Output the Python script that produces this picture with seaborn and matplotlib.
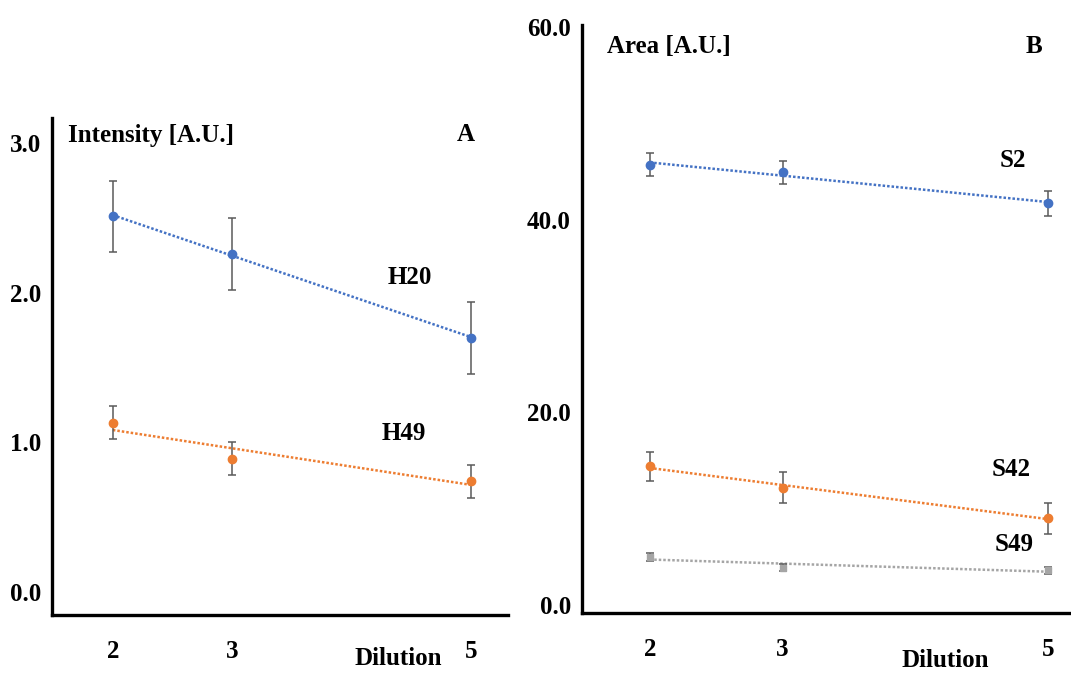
import numpy as np
import seaborn as sns
import matplotlib.pyplot as plt

# Dilution levels (shared by both panels)
dilution = [2, 3, 5]

# Panel A - intensity
h20_mean = [2.51, 2.26, 1.70]
h20_err = [0.24, 0.24, 0.24]
h49_mean = [1.13, 0.89, 0.74]
h49_err = [0.11, 0.11, 0.11]

# Panel B - area
s2_mean = [45.7, 44.9, 41.7]
s2_err = [1.2, 1.2, 1.3]
s42_mean = [14.4, 12.2, 9.0]
s42_err = [1.5, 1.6, 1.6]
s49_mean = [5.0, 3.9, 3.6]
s49_err = [0.4, 0.4, 0.4]

yticks_a = [0.0, 1.0, 2.0, 3.0]
yticks_b = [0.0, 20.0, 40.0, 60.0]

BLUE = "#4472C4"
ORANGE = "#ED7D31"
GREY = "#A5A5A5"
ERR = "#5a5a5a"

sns.set_style("white")
plt.rcParams['font.family'] = ['Liberation Serif', 'DejaVu Serif']
plt.rcParams['font.weight'] = 'bold'
plt.rcParams['text.color'] = 'black'
plt.rcParams['xtick.color'] = 'black'
plt.rcParams['ytick.color'] = 'black'

fig = plt.figure(figsize=(10.71, 6.73), dpi=100)
ax_a = fig.add_axes([0.0486, 0.0862, 0.4255, 0.739])
ax_b = fig.add_axes([0.5434, 0.089, 0.4566, 0.874])


def draw_series(ax, means, errs, color, marker='o', ms=6):
    # dotted linear trend line through the points
    sns.regplot(x=dilution, y=means, ax=ax, scatter=False, ci=None, truncate=True,
                color=color, line_kws=dict(lw=1.8, ls=(0, (1, 0.8))))
    ax.errorbar(dilution, means, yerr=errs, fmt=marker, color=color, ms=ms,
                ecolor=ERR, elinewidth=1.1, capsize=3, capthick=1.1, zorder=3)


draw_series(ax_a, h20_mean, h20_err, BLUE)
draw_series(ax_a, h49_mean, h49_err, ORANGE)

draw_series(ax_b, s2_mean, s2_err, BLUE)
draw_series(ax_b, s42_mean, s42_err, ORANGE)
draw_series(ax_b, s49_mean, s49_err, GREY, marker='s', ms=4)

tick_font = dict(fontsize=18, fontweight='bold', color='black')

for ax in (ax_a, ax_b):
    sns.despine(ax=ax)
    for side in ("left", "bottom"):
        ax.spines[side].set_linewidth(2.4)
        ax.spines[side].set_color("black")
    ax.set_xticks(dilution)
    ax.set_xticklabels([str(d) for d in dilution], **tick_font)
    ax.tick_params(axis='both', length=0)
    ax.tick_params(axis='x', pad=18)
    ax.tick_params(axis='y', pad=8)
    ax.set_xlabel("")
    ax.set_ylabel("")

ax_a.set_xlim(1.49, 5.31)
ax_a.set_ylim(-0.153, 3.17)
ax_a.set_yticks(yticks_a)
ax_a.set_yticklabels([f"{v:.1f}" for v in yticks_a], **tick_font)

ax_b.set_xlim(1.49, 5.17)
ax_b.set_ylim(-0.83, 60.2)
ax_b.set_yticks(yticks_b)
ax_b.set_yticklabels([f"{v:.1f}" for v in yticks_b], **tick_font)

lab = dict(fontsize=18, fontweight='bold', va='center', color='black')

# Panel A annotations
ax_a.text(1.62, 3.05, "Intensity [A.U.]", ha='left', **lab)
ax_a.text(4.96, 3.06, "A", ha='center', **lab)
ax_a.text(4.49, 2.10, "H20", ha='center', **lab)
ax_a.text(4.44, 1.06, "H49", ha='center', **lab)
ax_a.text(0.759, -0.087, "Dilution", transform=ax_a.transAxes, ha='center', **lab)

# Panel B annotations
ax_b.text(1.68, 58.0, "Area [A.U.]", ha='left', **lab)
ax_b.text(4.89, 58.0, "B", ha='center', **lab)
ax_b.text(4.73, 46.1, "S2", ha='center', **lab)
ax_b.text(4.72, 14.1, "S42", ha='center', **lab)
ax_b.text(4.74, 6.3, "S49", ha='center', **lab)
ax_b.text(0.742, -0.08, "Dilution", transform=ax_b.transAxes, ha='center', **lab)

fig.savefig("out.png", dpi=100)
